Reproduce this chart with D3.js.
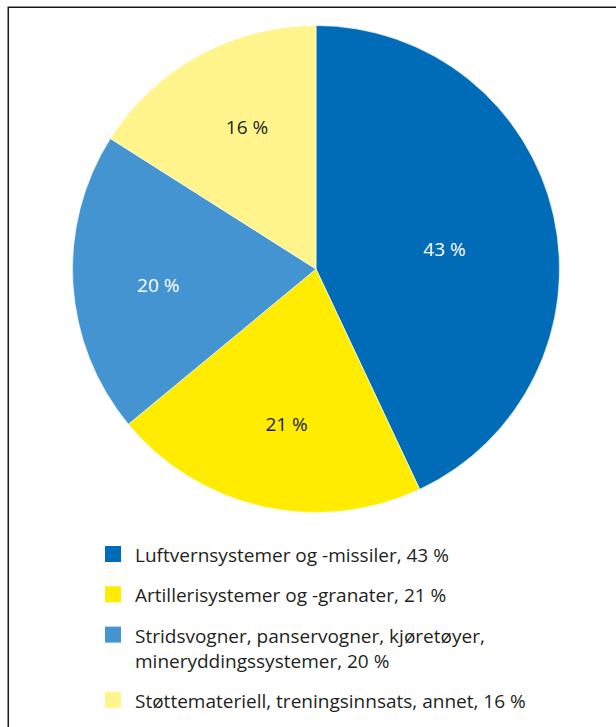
<!DOCTYPE html>
<html>
<head>
<meta charset="utf-8">
<script src="https://cdn.jsdelivr.net/npm/d3@7/dist/d3.min.js"></script>
<style>
  html, body { margin: 0; padding: 0; background: #fff; }
  svg { display: block; }
  text { font-family: "Open Sans", "Noto Sans", sans-serif; }
</style>
</head>
<body>
<svg id="chart" width="616" height="727"></svg>
<script>
// ---- data ----
const categories = [
  "Luftvernsystemer og -missiler",
  "Artillerisystemer og -granater",
  "Stridsvogner, panservogner, kjøretøyer, mineryddingssystemer",
  "Støttemateriell, treningsinnsats, annet"
];
const values = [43, 21, 20, 16];
const colors = ["#006cb7", "#ffec00", "#4394d0", "#fff58c"];
const labelColors = ["#ffffff", "#231f20", "#ffffff", "#231f20"];

// ---- layout ----
const W = 616, H = 727;
const cx = 316, cy = 269, R = 243.5;
const labelRadii = [130, 158.5, 158.5, 158];
const labelAngleShift = [4.0, -1.9, -2.2, 2.9]; // degrees
const textColor = "#231f20";
const fontSize = 19;

const svg = d3.select("#chart");

// frame
svg.append("rect")
  .attr("x", 8.25).attr("y", 7.25)
  .attr("width", W + 20).attr("height", H + 20)
  .attr("fill", "none").attr("stroke", "#1a1a1a").attr("stroke-width", 1.5);

const data = categories.map((c, i) => ({ name: c, value: values[i], color: colors[i], lc: labelColors[i] }));

const pie = d3.pie().value(d => d.value).sort(null);
const arcs = pie(data);
const arc = d3.arc().innerRadius(0).outerRadius(R);

const g = svg.append("g").attr("transform", `translate(${cx},${cy})`);
g.selectAll("path.slice")
  .data(arcs)
  .join("path")
  .attr("class", "slice")
  .attr("d", arc)
  .attr("fill", d => d.data.color)
  .attr("stroke", "#ffffff")
  .attr("stroke-width", 0.6);

g.selectAll("text.lbl")
  .data(arcs)
  .join("text")
  .attr("class", "lbl")
  .attr("transform", (d, i) => {
    const a = (d.startAngle + d.endAngle) / 2 + labelAngleShift[i] * Math.PI / 180;
    const x = labelRadii[i] * Math.sin(a), y = -labelRadii[i] * Math.cos(a);
    return `translate(${x},${y})`;
  })
  .attr("text-anchor", "middle")
  .attr("dy", "0.35em")
  .attr("font-size", fontSize)
  .attr("fill", d => d.data.lc)
  .text(d => d.data.value + " %");

// legend
const legX = 105, textX = 135, sq = 16;
const firstBase = 562, rowGap = 40.3, lineGap = 25, wrapWidth = 430;
const leg = svg.append("g");
let base = firstBase;
data.forEach((d, i) => {
  const t = leg.append("text")
    .attr("x", textX).attr("y", base)
    .attr("font-size", fontSize)
    .attr("fill", textColor);
  const words = (d.name + ", " + d.value + " %").split(" ");
  let line = [];
  let tspan = t.append("tspan").attr("x", textX).attr("y", base);
  let lines = 1;
  words.forEach(w => {
    line.push(w);
    tspan.text(line.join(" "));
    if (tspan.node().getComputedTextLength() > wrapWidth && line.length > 1) {
      line.pop();
      tspan.text(line.join(" "));
      line = [w];
      tspan = t.append("tspan").attr("x", textX).attr("y", base + lines * lineGap).text(w);
      lines++;
    }
  });
  leg.append("rect")
    .attr("x", legX).attr("y", base - sq)
    .attr("width", sq).attr("height", sq)
    .attr("fill", d.color);
  base += rowGap + (lines - 1) * lineGap;
});
</script>
</body>
</html>
